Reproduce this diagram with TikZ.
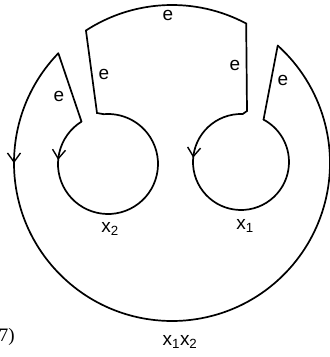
\documentclass[tikz,border=0pt]{standalone}
\usepackage{fontspec}
\setmainfont{Liberation Serif}
\setsansfont{Liberation Sans}
\usetikzlibrary{arrows.meta,calc,decorations.markings}

\begin{document}
\begin{tikzpicture}[
    x=1pt, y=1pt,
    line width=1.7pt, line cap=round, line join=miter,
    elabel/.style={font=\sffamily\fontsize{19}{21}\selectfont, inner sep=1pt},
    flowmark/.style={postaction={decorate},
        decoration={markings, mark=at position #1 with {\arrow[line width=1.4pt]{Straight Barb[length=9pt,width=13pt]}}}}
]
\useasboundingbox (0,0) rectangle (330,357);

% Centres
\coordinate (O) at (172,194);
\coordinate (L) at (108,193);
\coordinate (R) at (241,195);

% Corner points
\coordinate (outerL) at ($(O)+(136:158)$);
\coordinate (outerR) at ($(O)+(48:158)$);
\coordinate (topL) at ($(O)+(123:158)$);
\coordinate (boxL) at (97,244);
\coordinate (boxR) at (247,246);
\coordinate (leftTop) at ($(L)+(95:50)$);
\coordinate (leftSlant) at ($(L)+(122:50)$);
\coordinate (rightTop) at ($(R)+(88:48)$);
\coordinate (rightSlant) at ($(R)+(62:48)$);

% Outer loop
\draw[flowmark=0.162] (outerL) arc[start angle=136, end angle=408, radius=158];

% Box on top
\draw (leftTop) -- (boxL) -- (topL) arc[start angle=123, end angle=62, radius=158] -- (boxR) -- (rightTop);

% Slanted edges
\draw (outerL) -- (leftSlant);
\draw (outerR) -- (rightSlant);

% Inner loops
\draw[flowmark=0.16] (leftSlant) arc[start angle=122, end angle=455, radius=50];
\draw[flowmark=0.26] (rightTop) arc[start angle=88, end angle=422, radius=48];

% Labels
\node[elabel] (eTop) at (168,342) {e};
\node[elabel] (eBoxL) at (104,283) {e};
\node[elabel] (eBoxR) at (235,292) {e};
\node[elabel] (eSlantL) at (59,261) {e};
\node[elabel] (eSlantR) at (283,277) {e};
\node[elabel] (xTwo) at (110,128) {x\textsubscript{2}};
\node[elabel] (xOne) at (245,131) {x\textsubscript{1}};
\node[elabel] (xProd) at (180,15) {x\textsubscript{1}x\textsubscript{2}};
\node[font=\fontsize{19}{21}\selectfont, anchor=west, inner sep=0pt] (eqNum) at (-2,20) {7)};

\end{tikzpicture}
\end{document}
